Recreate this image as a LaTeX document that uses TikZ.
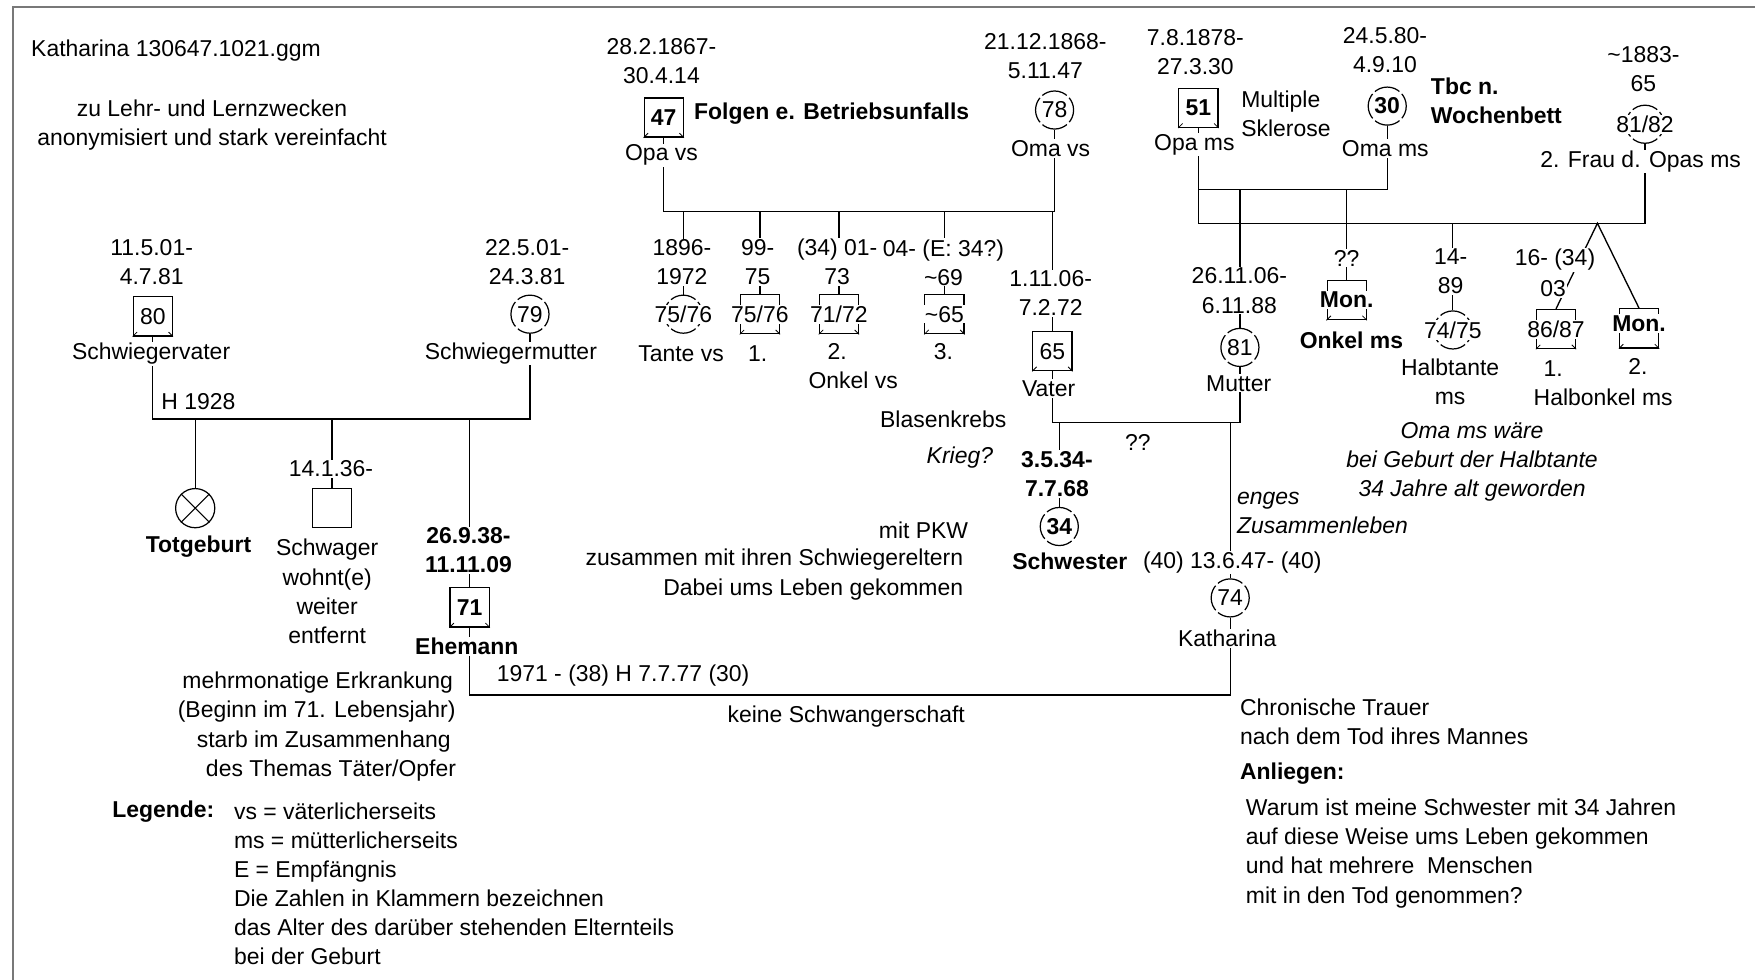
\documentclass[tikz,border=0pt]{standalone}
\usepackage{fontspec}
\setmainfont{Liberation Sans}
\usetikzlibrary{backgrounds}
\definecolor{framegray}{RGB}{120,120,120}

\tikzset{
  every node/.style={font=\fontsize{20.5pt}{26pt}\selectfont},
  lbl/.style={fill=white, inner sep=1pt, align=center},
  lbll/.style={fill=white, inner sep=1pt, align=left},
  tbf/.style={font=\fontsize{20.5pt}{26pt}\selectfont\bfseries},
  tit/.style={font=\fontsize{20.5pt}{26pt}\selectfont\itshape},
  male/.style={draw, fill=white, line width=1.1pt, minimum size=35pt, inner sep=0pt},
  female/.style={draw, fill=white, circle, line width=1.1pt, minimum size=34pt, inner sep=0pt,
                 dash pattern=on 23.7pt off 3pt, dash phase=11.85pt},
  stillbirth/.style={draw, fill=white, circle, line width=1.1pt, minimum size=35pt, inner sep=0pt},
  link/.style={line width=1.2pt},
}

\begin{document}
\begin{tikzpicture}[x=1pt,y=-1pt]
\useasboundingbox (0,0) rectangle (1568,875);

% ---------- persons ----------
% in-laws
\node[male] (SV) at (136.5,282.6) {};
\node[female] (SM) at (473.5,280.7) {};
\node[stillbirth] (T) at (174.4,454) {};
\node[male] (Schwager) at (296.6,453.7) {};
\node[male] (Ehemann) at (419.6,542.6) {};
% paternal side
\node[male] (OpaVS) at (593,105) {};
\node[female] (OmaVS) at (942.2,98.3) {};
\node[female] (Tante) at (610.5,280.7) {};
\node[male] (On1) at (678.9,280.7) {};
\node[male] (On2) at (749.5,280.7) {};
\node[male] (On3) at (843.8,280.7) {};
\node[male] (Vater) at (940.2,313.7) {};
% maternal side
\node[male] (OpaMS) at (1070.7,96.3) {};
\node[female] (OmaMS) at (1239.4,94.8) {};
\node[female] (Frau2) at (1469.7,111) {};
\node[female] (Mutter) at (1107.8,310.4) {};
\node[male] (OnMS) at (1203.2,268.1) {};
\node[female] (HT) at (1298,294.8) {};
\node[male] (HO1) at (1390.2,294) {};
\node[male] (HO2) at (1464.4,293.4) {};
% index generation
\node[female] (Schwester) at (946.4,470.4) {};
\node[female] (Kath) at (1099.1,534.2) {};

% cross of the stillbirth
\draw[line width=0.9pt] (T.north west) -- (T.south east) (T.north east) -- (T.south west);

% small corner marks of the squares
\foreach \s in {SV,Ehemann,OpaVS,On1,On2,On3,Vater,OpaMS,OnMS,HO1,HO2} {
  \draw[line width=0.7pt] (\s.south west) -- ++(4,-4);
  \draw[line width=0.7pt] (\s.south east) -- ++(-4,-4);
}

% ---------- ages inside the symbols ----------
\node[lbl] (SVa) at (SV) {80};
\node[lbl] (SMa) at (SM) {79};
\node[lbl,tbf] (Ehea) at (Ehemann) {71};
\node[lbl,tbf] (OpaVSa) at (OpaVS) {47};
\node[lbl] (OmaVSa) at (OmaVS) {78};
\node[lbl] (Tantea) at (Tante) {75/76};
\node[lbl] (On1a) at (On1) {75/76};
\node[lbl] (On2a) at (On2) {71/72};
\node[lbl] (On3a) at (On3) {\textasciitilde65};
\node[lbl] (Vatera) at (Vater) {65};
\node[lbl,tbf] (OpaMSa) at (OpaMS) {51};
\node[lbl,tbf] (OmaMSa) at (OmaMS) {30};
\node[lbl] (Frau2a) at (Frau2) {81/82};
\node[lbl] (Muttera) at (Mutter) {81};
\node[lbl,tbf] (OnMSa) at (OnMS) {Mon.};
\node[lbl] (HTa) at (HT) {74/75};
\node[lbl] (HO1a) at (HO1) {86/87};
\node[lbl,tbf] (HO2a) at (1464.4,289) {Mon.};
\node[lbl,tbf] (Schwestera) at (Schwester) {34};
\node[lbl] (Katha) at (Kath) {74};

% ---------- texts ----------
\node[lbl,anchor=west] (title) at (26.7,45.3) {Katharina 130647.1021.ggm};
\node[lbl] (purpose) at (189.5,112.1) {zu Lehr- und Lernzwecken\\anonymisiert und stark vereinfacht};

\node[lbl] (SVd) at (135.5,234.5) {11.5.01-\\4.7.81};
\node[lbl] (SVn) at (135,316) {Schwiegervater};
\node[lbl] (SMd) at (471,234.5) {22.5.01-\\24.3.81};
\node[lbl] (SMn) at (456.4,315.7) {Schwiegermutter};
\node[lbl,anchor=west] (h1928) at (143,358.8) {H 1928};
\node[lbl,tbf] (Tn) at (177.4,488.7) {Totgeburt};
\node[lbl] (Schwd) at (295.7,419.1) {14.1.36-};
\node[lbl] (Schwn) at (292.3,528.4) {Schwager\\wohnt(e)\\weiter\\entfernt};
\node[lbl,tbf] (Ehed) at (418.5,491.8) {26.9.38-\\11.11.09};
\node[lbl,tbf] (Ehen) at (417.1,577.8) {Ehemann};
\node[lbl] (ill1) at (283.8,609.8) {mehrmonatige Erkrankung};
\node[lbl] (ill2) at (282.9,636.1) {(Beginn im 71. Lebensjahr)};
\node[lbl] (ill3) at (289.2,662.6) {starb im Zusammenhang};
\node[lbl] (ill4) at (295.7,688.3) {des Themas Täter/Opfer};
\node[lbl,tbf,anchor=west] (leg) at (99.1,725.2) {Legende:};
\node[lbll,anchor=west] (legtxt) at (207.9,789.5) {vs = väterlicherseits\\ms = mütterlicherseits\\E = Empfängnis\\Die Zahlen in Klammern bezeichnen\\das Alter des darüber stehenden Elternteils\\bei der Geburt};

\node[lbl] (OpaVSd) at (591,54.8) {28.2.1867-\\30.4.14};
\node[lbl,tbf,anchor=west] (OpaVSc) at (619,101.3) {Folgen e. Betriebsunfalls};
\node[lbl] (OpaVSn) at (591,138.5) {Opa vs};
\node[lbl] (OmaVSd) at (934,49.9) {21.12.1868-\\5.11.47};
\node[lbl] (OmaVSn) at (938.7,132.5) {Oma vs};
\node[lbl] (Tanted) at (609.3,234.5) {1896-\\1972};
\node[lbl] (Tanten) at (608.5,315.7) {Tante vs};
\node[lbl] (On1d) at (676.9,234.2) {99-\\75};
\node[lbl] (On1n) at (676.9,315.7) {1.};
\node[lbl] (On2d) at (748,233.8) {(34) 01-\\73};
\node[lbl] (On2n) at (748,314) {2.};
\node[lbl] (On3d) at (843,234.4) {04- (E: 34?)\\\textasciitilde69};
\node[lbl] (On3n) at (843,314) {3.};
\node[lbl] (Onvs) at (762.3,339.5) {Onkel vs};
\node[lbl] (Vaterd) at (938.7,262.1) {1.11.06-\\7.2.72};
\node[lbl] (Vatern) at (936.9,347) {Vater};
\node[lbl,anchor=east] (krebs) at (900.4,374.6) {Blasenkrebs};
\node[lbl,tit] (krieg) at (857.6,408.6) {Krieg?};
\node[lbl] (qq) at (1016.6,395.5) {??};
\node[lbl,tbf] (Schwesd) at (944.3,423.5) {3.5.34-\\7.7.68};
\node[lbl,tbf] (Schwesn) at (955.8,501.8) {Schwester};
\node[lbl,anchor=east] (pkw1) at (866.2,474.1) {mit PKW};
\node[lbl,anchor=east] (pkw2) at (861.7,500.3) {zusammen mit ihren Schwiegereltern};
\node[lbl,anchor=east] (pkw3) at (861.7,526.5) {Dabei ums Leben gekommen};
\node[lbl] (Kathd) at (1101,502.7) {(40) 13.6.47- (40)};
\node[lbll,tit,anchor=west] (enges) at (1104,458) {enges\\Zusammenleben};
\node[lbl] (Kathn) at (1096.4,570.3) {Katharina};
\node[lbl,anchor=west] (marr) at (442.7,603.2) {1971 - (38) H 7.7.77 (30)};
\node[lbl] (keine) at (756.1,640.3) {keine Schwangerschaft};
\node[lbll,anchor=west] (trauer) at (1106.7,644.7) {Chronische Trauer\\nach dem Tod ihres Mannes};
\node[lbl,tbf,anchor=west] (anl) at (1106.7,690.9) {Anliegen:};
\node[lbll,anchor=west] (frage) at (1112,762.5) {Warum ist meine Schwester mit 34 Jahren\\auf diese Weise ums Leben gekommen\\und hat mehrere\ \ Menschen\\mit in den Tod genommen?};

\node[lbl] (OpaMSd) at (1068,46.2) {7.8.1878-\\27.3.30};
\node[lbll,anchor=west] (msk) at (1107.8,101.7) {Multiple\\Sklerose};
\node[lbl] (OpaMSn) at (1067.1,129.5) {Opa ms};
\node[lbl] (OmaMSd) at (1237.4,44.9) {24.5.80-\\4.9.10};
\node[lbll,tbf,anchor=west] (tbc) at (1277.3,90) {Tbc n.\\Wochenbett};
\node[lbl] (OmaMSn) at (1237.7,132.5) {Oma ms};
\node[lbl] (Frau2d) at (1468.3,61.8) {\textasciitilde1883-\\65};
\node[lbl] (Frau2n) at (1465.8,144.4) {2. Frau d. Opas ms};
\node[lbl] (Mutterd) at (1107.3,259.6) {26.11.06-\\6.11.88};
\node[lbl] (Muttern) at (1106.7,342.5) {Mutter};
\node[lbl] (OnMSd) at (1203.2,230.8) {??};
\node[lbl,tbf] (OnMSn) at (1207.4,303.8) {Onkel ms};
\node[lbl] (HTd) at (1296,242.4) {14-\\89};
\node[lbl] (HTn) at (1295.6,341) {Halbtante\\ms};
\node[lbl] (HO1d) at (1389.3,232.3) {16- (34)};
\node[lbl] (HO1e) at (1387.6,257.6) {03};
\node[lbl] (HO1n) at (1387.6,329) {1.};
\node[lbl] (HO2n) at (1463.4,327.6) {2.};
\node[lbl] (HOn) at (1432.4,355) {Halbonkel ms};
\node[lbl,tit] (omanote) at (1315.2,412.5) {Oma ms wäre\\bei Geburt der Halbtante\\34 Jahre alt geworden};

% ---------- levels of the family lines ----------
\coordinate (hSE) at (0,374.5);
\coordinate (hVS) at (0,189.1);
\coordinate (hMS1) at (0,169.1);
\coordinate (hMS2) at (0,199.5);
\coordinate (hEP) at (0,377.6);
\coordinate (hKE) at (0,621);
\coordinate (apex) at (1427.2,199.5);

% ---------- connectors, behind everything ----------
\begin{scope}[on background layer]
  \fill[white] (0,0) rectangle (1568,875);
  \draw[framegray, line width=1.6pt] (11.3,876) -- (11.3,6.5) -- (1569,6.5);
  \begin{scope}[link]
    % in-laws and their children
    \draw (SV) -- (SV |- hSE) -- (SM |- hSE) -- (SM);
    \draw (T) -- (T |- hSE);
    \draw (Schwager) -- (Schwager |- hSE);
    \draw (Ehemann) -- (Ehemann |- hSE);
    % paternal grandparents
    \draw (OpaVS) -- (OpaVS |- hVS) -- (OmaVS |- hVS) -- (OmaVS);
    \foreach \c in {Tante,On1,On2,On3,Vater} \draw (\c) -- (\c |- hVS);
    % maternal grandfather, both marriages
    \draw (OpaMS) -- (OpaMS |- hMS2) -- (Frau2 |- hMS2) -- (Frau2);
    \draw (OpaMS |- hMS1) -- (OmaMS |- hMS1) -- (OmaMS);
    \draw (Mutter) -- (Mutter |- hMS1);
    \draw (OnMS) -- (OnMS |- hMS1);
    \draw (HT) -- (HT |- hMS2);
    \draw (HO1.north) -- (apex) -- (HO2.north);
    % parents
    \draw (Vater) -- (Vater |- hEP) -- (Mutter |- hEP) -- (Mutter);
    \draw (Schwester) -- (Schwester |- hEP);
    \draw (Kath) -- (Kath |- hEP);
    % Katharina and husband
    \draw (Ehemann) -- (Ehemann |- hKE) -- (Kath |- hKE) -- (Kath);
  \end{scope}
\end{scope}
\end{tikzpicture}
\end{document}
